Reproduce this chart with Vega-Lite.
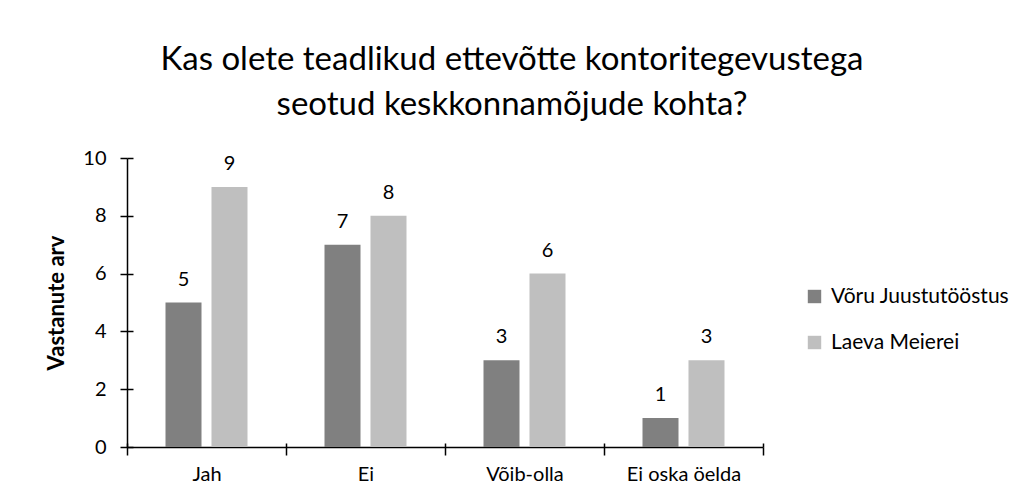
{
  "$schema": "https://vega.github.io/schema/vega-lite/v6.json",
  "width": 636,
  "height": 289,
  "autosize": {"type": "none"},
  "padding": {"left": 127, "top": 158, "right": 264, "bottom": 56},
  "background": "white",
  "title": {
    "text": ["Kas olete teadlikud ettevõtte kontoritegevustega", "seotud keskkonnamõjude kohta?"],
    "font": "Lato",
    "fontSize": 33,
    "fontWeight": "normal",
    "color": "#000000",
    "lineHeight": 45,
    "anchor": "middle",
    "dx": 67,
    "offset": 26
  },
  "data": {
    "values": [
      {"vastus": "Jah", "ettevõte": "Võru Juustutööstus", "arv": 5},
      {"vastus": "Jah", "ettevõte": "Laeva Meierei", "arv": 9},
      {"vastus": "Ei", "ettevõte": "Võru Juustutööstus", "arv": 7},
      {"vastus": "Ei", "ettevõte": "Laeva Meierei", "arv": 8},
      {"vastus": "Võib-olla", "ettevõte": "Võru Juustutööstus", "arv": 3},
      {"vastus": "Võib-olla", "ettevõte": "Laeva Meierei", "arv": 6},
      {"vastus": "Ei oska öelda", "ettevõte": "Võru Juustutööstus", "arv": 1},
      {"vastus": "Ei oska öelda", "ettevõte": "Laeva Meierei", "arv": 3}
    ]
  },
  "encoding": {
    "xOffset": {
      "field": "ettevõte",
      "type": "nominal",
      "sort": ["Võru Juustutööstus", "Laeva Meierei"],
      "scale": {"paddingInner": 0.217, "paddingOuter": 0.837}
    }
  },
  "layer": [
    {
      "mark": {"type": "bar"},
      "encoding": {
        "x": {
          "field": "vastus",
          "type": "nominal",
          "sort": ["Jah", "Ei", "Võib-olla", "Ei oska öelda"],
          "scale": {"paddingInner": 0, "paddingOuter": 0},
          "axis": {
            "title": null,
            "labelAngle": 0,
            "tickBand": "extent",
            "tickSize": 8,
            "tickColor": "#000000",
            "domainColor": "#000000",
            "domainWidth": 1.5,
            "tickWidth": 1.5,
            "labelPadding": 9,
            "labelFont": "Lato",
            "labelFontSize": 20,
            "labelColor": "#000000"
          }
        },
        "y": {
          "field": "arv",
          "type": "quantitative",
          "scale": {"domain": [0, 10], "nice": false},
          "axis": {
            "title": "Vastanute arv",
            "titleFont": "Lato",
            "titleFontSize": 22,
            "titleFontWeight": "bold",
            "titleColor": "#000000",
            "titlePadding": 14,
            "values": [0, 2, 4, 6, 8, 10],
            "grid": false,
            "tickSize": 7,
            "tickColor": "#000000",
            "tickWidth": 1.5,
            "domainColor": "#000000",
            "domainWidth": 1.5,
            "labelPadding": 14,
            "labelFont": "Lato",
            "labelFontSize": 20,
            "labelColor": "#000000"
          }
        },
        "color": {
          "field": "ettevõte",
          "type": "nominal",
          "sort": ["Võru Juustutööstus", "Laeva Meierei"],
          "scale": {"domain": ["Võru Juustutööstus", "Laeva Meierei"], "range": ["#808080", "#bfbfbf"]},
          "legend": {
            "title": null,
            "orient": "none",
            "legendX": 677,
            "legendY": 128,
            "symbolType": "square",
            "symbolSize": 180,
            "symbolStrokeWidth": 0,
            "labelFont": "Lato",
            "labelFontSize": 21,
            "labelColor": "#000000",
            "labelLimit": 400,
            "rowPadding": 24,
            "labelOffset": 6,
            "padding": 0
          }
        }
      }
    },
    {
      "mark": {"type": "text", "baseline": "alphabetic", "dy": -17, "font": "Lato", "fontSize": 20, "color": "#000000"},
      "encoding": {
        "x": {
          "field": "vastus",
          "type": "nominal",
          "sort": ["Jah", "Ei", "Võib-olla", "Ei oska öelda"],
          "scale": {"paddingInner": 0, "paddingOuter": 0},
          "axis": {
            "orient": "bottom",
            "title": null,
            "labels": false,
            "domain": false,
            "tickBand": "extent",
            "offset": -4,
            "tickSize": 4,
            "tickColor": "#000000",
            "tickWidth": 1.5
          }
        },
        "y": {
          "field": "arv",
          "type": "quantitative",
          "scale": {"domain": [0, 10], "nice": false},
          "axis": {
            "orient": "left",
            "title": null,
            "labels": false,
            "domain": false,
            "grid": false,
            "values": [0, 2, 4, 6, 8, 10],
            "offset": -6,
            "tickSize": 6,
            "tickColor": "#000000",
            "tickWidth": 1.5
          }
        },
        "text": {"field": "arv", "type": "quantitative"}
      }
    }
  ],
  "resolve": {"axis": {"x": "independent", "y": "independent"}},
  "config": {
    "view": {"stroke": null}
  }
}
